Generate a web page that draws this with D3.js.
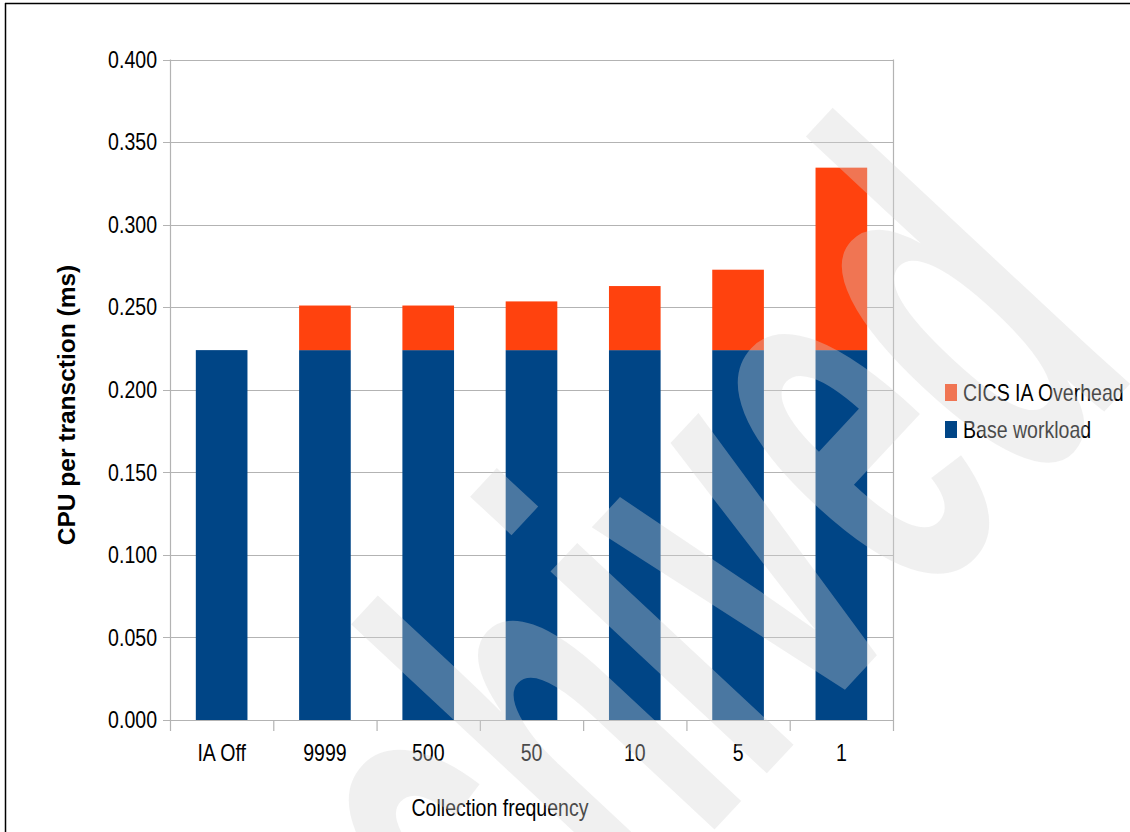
<!DOCTYPE html>
<html><head><meta charset="utf-8">
<script src="https://cdn.jsdelivr.net/npm/d3@7"></script>
<style>body{margin:0;background:#fff}svg{display:block}</style>
</head><body><svg id="c" width="1130" height="832"></svg>
<script>
const categories = ["IA Off","9999","500","50","10","5","1"];
const baseWorkload = [0.224,0.224,0.224,0.224,0.224,0.224,0.224];
const iaOverhead = [0,0.027,0.027,0.0295,0.0388,0.0487,0.1105];
const yTicks = [0,0.05,0.1,0.15,0.2,0.25,0.3,0.35,0.4];
const seriesNames = ["CICS IA Overhead","Base workload"];
const seriesColors = ["#ff420e","#004586"];
const xTitle = "Collection frequency";
const yTitle = "CPU per transction (ms)";
const watermark = "Archived";

const svg = d3.select("#c");
const FONT = "'Liberation Sans', Arial, sans-serif";
const SX = 0.85;
const L = 170, R = 893, T = 59.5, B = 720;
const x = d3.scaleBand().domain(categories).range([L, R]).paddingInner(0.5).paddingOuter(0.25);
const xb = d3.scaleBand().domain(categories).range([L, R]);
const y = d3.scaleLinear().domain([0, 0.4]).range([B, T]);
const grid = "#b3b3b3";

// frame
svg.append("line").attr("x1",5).attr("x2",1130).attr("y1",3.5).attr("y2",3.5).attr("stroke","#000").attr("stroke-width",1.5);
svg.append("line").attr("x1",5.5).attr("x2",5.5).attr("y1",3).attr("y2",832).attr("stroke","#000").attr("stroke-width",1.5);

// gridlines
svg.append("g").selectAll("line").data(yTicks).join("line")
  .attr("x1", L-7).attr("x2", R).attr("y1", d=>Math.round(y(d))+0.5).attr("y2", d=>Math.round(y(d))+0.5)
  .attr("stroke", grid).attr("stroke-width",1.2);
// y tick labels
svg.append("g").selectAll("g").data(yTicks).join("g")
  .attr("transform", d=>`translate(157,${y(d)}) scale(${SX},1)`)
  .append("text").attr("text-anchor","end").attr("dy","0.36em")
  .attr("font-family",FONT).attr("font-size",23).attr("fill","#000")
  .text(d=>d3.format(".3f")(d));

// bars
const rows = categories.map((c,i)=>({cat:c, base:baseWorkload[i], over:iaOverhead[i]}));
const stack = d3.stack().keys(["base","over"])(rows);
const keyColor = {base: seriesColors[1], over: seriesColors[0]};
svg.append("g").selectAll("g").data(stack).join("g")
  .attr("fill", s=>keyColor[s.key])
  .selectAll("rect").data(s=>s.filter(d=>d[1]-d[0]>0)).join("rect")
  .attr("x", d=>x(d.data.cat)).attr("width", x.bandwidth())
  .attr("y", d=>y(d[1])).attr("height", d=>y(d[0])-y(d[1]));

// axes lines
svg.append("line").attr("x1",L+0.5).attr("x2",L+0.5).attr("y1",T).attr("y2",731).attr("stroke",grid).attr("stroke-width",1.2);
svg.append("line").attr("x1",R+0.5).attr("x2",R+0.5).attr("y1",T).attr("y2",731).attr("stroke",grid).attr("stroke-width",1.2);
svg.append("g").selectAll("line").data(categories.slice(1)).join("line")
  .attr("x1", d=>xb(d)+0.5).attr("x2", d=>xb(d)+0.5).attr("y1", B).attr("y2", 731)
  .attr("stroke", grid).attr("stroke-width",1.2);

// x tick labels
svg.append("g").selectAll("g").data(categories).join("g")
  .attr("transform", d=>`translate(${xb(d)+xb.bandwidth()/2},761) scale(${SX},1)`)
  .append("text").attr("text-anchor","middle")
  .attr("font-family",FONT).attr("font-size",23).attr("fill","#000").text(d=>d);

// axis titles
svg.append("g").attr("transform",`translate(500,816) scale(${SX},1)`)
  .append("text").attr("text-anchor","middle").attr("font-family",FONT).attr("font-size",23).text(xTitle);
svg.append("text").attr("transform","translate(75,405) rotate(-90)").attr("text-anchor","middle")
  .attr("font-family",FONT).attr("font-size",24.5).attr("font-weight","bold").text(yTitle);

// legend
const lg = svg.append("g").selectAll("g").data(seriesNames).join("g")
  .attr("transform",(d,i)=>`translate(945,${384+i*37})`);
lg.append("rect").attr("width",12).attr("height",17).attr("fill",(d,i)=>seriesColors[i]);
lg.append("g").attr("transform",`translate(18,17) scale(${SX},1)`).append("text")
  .attr("font-family",FONT).attr("font-size",23).text(d=>d);

// watermark
svg.append("text").attr("transform","translate(1143,370) rotate(-47) scale(0.51,1)")
  .attr("text-anchor","end").attr("font-weight","bold")
  .attr("font-family",FONT).attr("font-size",560)
  .attr("fill","#d4d4d4").attr("fill-opacity",0.35).text(watermark);
</script></body></html>
